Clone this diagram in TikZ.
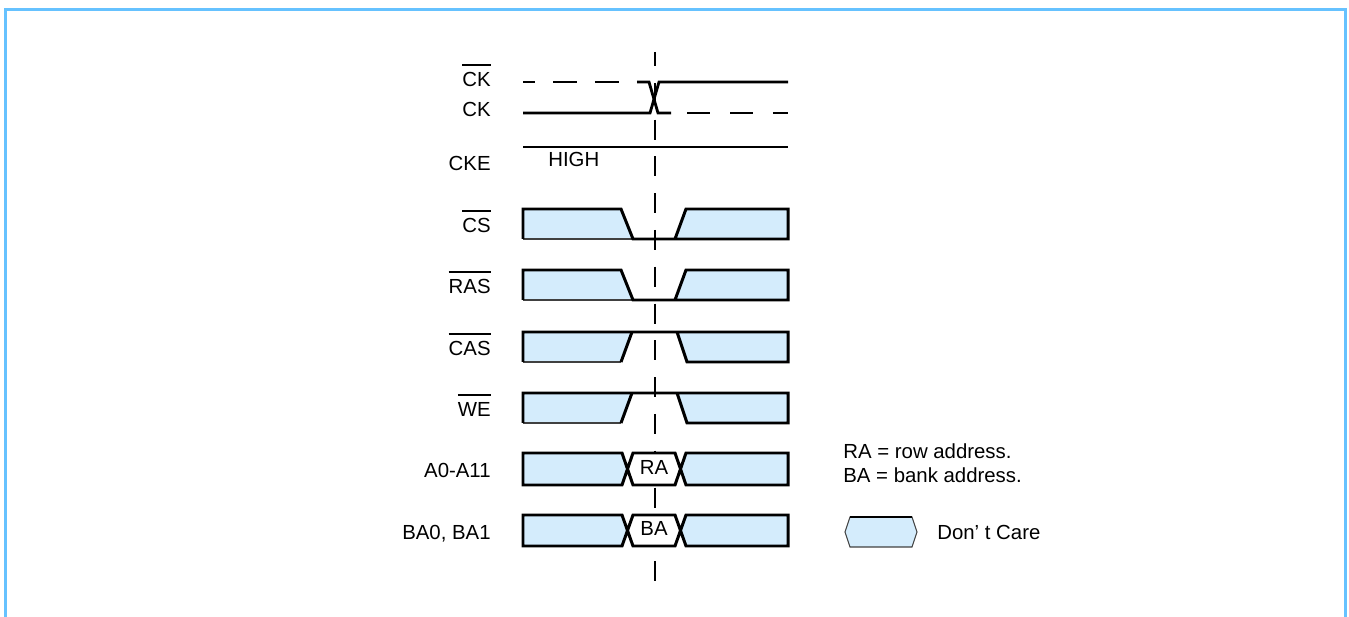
\documentclass[tikz,border=0pt]{standalone}
\usepackage{fontspec}
\setmainfont{Liberation Sans}
\usepackage{tikz}
\usetikzlibrary{positioning}
\definecolor{dcblue}{RGB}{212,236,252}
\definecolor{frameblue}{RGB}{102,194,255}
% bar over an active-low signal name
\newcommand{\sigbar}[1]{\vbox{\hrule height 1.2pt\kern 3.8pt\hbox{#1}}}

\begin{document}
\begin{tikzpicture}[
    % GLOBAL CFG
    x=0.02cm, y=-0.02cm,
    font=\fontsize{11.6}{13}\selectfont,
    % Styles
    sig/.style={% For the signal outlines
        line width=1.7pt,
        },
    thinsig/.style={% For the lower edge of the left boxes
        line width=0.6pt,
        draw=black!75,
        },
    dc/.style={% Don't care fill
        fill=dcblue,
        },
    clk/.style={% For the clock lines
        line width=1.6pt,
        },
    refline/.style={% The dashed reference line
        line width=1.3pt,
        dash pattern=on 0.4cm off 0.336cm,
        dash phase=0.12cm,
        },
    frame/.style={% Outer frame
        line width=1.7pt,
        draw=frameblue,
        },
    siglabel/.style={% Names of the signals
        anchor=base east,
        inner sep=0pt,
        },
    note/.style={% Texts on the right
        anchor=base west,
        inner sep=0pt,
        }
    ]

\useasboundingbox (0,0) rectangle (1349,617);

    % Draw the frame
    \draw[frame] (5.5,617) -- (5.5,9.5) -- (1345.5,9.5) -- (1345.5,617);

    % Draw the reference line
    \draw[refline] (655,52) -- (655,582);

    % Signal names
    \node[siglabel] (ckbar) at (491,87) {\sigbar{CK}};
    \node[siglabel] (ck) at (491,117) {CK};
    \node[siglabel] (cke) at (491,171) {CKE};
    \node[siglabel] (cs) at (491,233) {\sigbar{CS}};
    \node[siglabel] (ras) at (491,294) {\sigbar{RAS}};
    \node[siglabel] (cas) at (491,356) {\sigbar{CAS}};
    \node[siglabel] (we) at (491,417) {\sigbar{WE}};
    \node[siglabel] (addr) at (491,478) {A0-A11};
    \node[siglabel] (bank) at (491,540) {BA0, BA1};

    % Clocks
    \draw[clk, dash pattern=on 0.48cm off 0.36cm, dash phase=0.24cm] (523,82) -- (637,82);
    \draw[clk] (637,82) -- (649,82) -- (658,113) -- (671,113);
    \draw[clk, dash pattern=on 0.46cm off 0.4cm] (687,113) -- (788,113);
    \draw[clk] (523,113) -- (650,113) -- (659,82) -- (788,82);
    \draw[clk] (523,147) -- (788,147);
    \node[note] (high) at (548,167) {HIGH};

    % CS
    \fill[dc] (523,209) -- (621,209) -- (633,239) -- (523,239) -- cycle;
    \fill[dc] (675,239) -- (686,209) -- (788,209) -- (788,239) -- cycle;
    \draw[thinsig] (523,239) -- (633,239);
    \draw[sig] (523,239) -- (523,209) -- (621,209) -- (633,239) -- (675,239) -- (686,209) -- (788,209) -- (788,239) -- (675,239);

    % RAS
    \fill[dc] (523,270) -- (621,270) -- (633,300) -- (523,300) -- cycle;
    \fill[dc] (675,300) -- (686,270) -- (788,270) -- (788,300) -- cycle;
    \draw[thinsig] (523,300) -- (633,300);
    \draw[sig] (523,300) -- (523,270) -- (621,270) -- (633,300) -- (675,300) -- (686,270) -- (788,270) -- (788,300) -- (675,300);

    % CAS
    \fill[dc] (523,332) -- (632,332) -- (621,362) -- (523,362) -- cycle;
    \fill[dc] (677,332) -- (788,332) -- (788,362) -- (687,362) -- cycle;
    \draw[thinsig] (523,362) -- (621,362);
    \draw[sig] (523,362) -- (523,332) -- (788,332) -- (788,362) -- (687,362) -- (677,332);
    \draw[sig] (632,332) -- (621,362);

    % WE
    \fill[dc] (523,393) -- (632,393) -- (621,423) -- (523,423) -- cycle;
    \fill[dc] (677,393) -- (788,393) -- (788,423) -- (687,423) -- cycle;
    \draw[thinsig] (523,423) -- (621,423);
    \draw[sig] (523,423) -- (523,393) -- (788,393) -- (788,423) -- (687,423) -- (677,393);
    \draw[sig] (632,393) -- (621,423);

    % A0-A11
    \fill[dc] (523,453) -- (622,453) -- (627.5,469) -- (622,485) -- (523,485) -- cycle;
    \fill[white] (627.5,469) -- (633,453) -- (675,453) -- (680.5,469) -- (675,485) -- (633,485) -- cycle;
    \fill[dc] (680.5,469) -- (686,453) -- (788,453) -- (788,485) -- (686,485) -- cycle;
    \draw[sig] (523,485) -- (523,453) -- (622,453) -- (633,485) -- (675,485) -- (686,453) -- (788,453) -- (788,485) -- (686,485) -- (675,453) -- (633,453) -- (622,485) -- cycle;
    \node[anchor=base, inner sep=0pt] (ra) at (654,475) {RA};

    % BA0, BA1
    \fill[dc] (523,515) -- (622,515) -- (627.5,530.5) -- (622,546) -- (523,546) -- cycle;
    \fill[white] (627.5,530.5) -- (633,515) -- (675,515) -- (680.5,530.5) -- (675,546) -- (633,546) -- cycle;
    \fill[dc] (680.5,530.5) -- (686,515) -- (788,515) -- (788,546) -- (686,546) -- cycle;
    \draw[sig] (523,546) -- (523,515) -- (622,515) -- (633,546) -- (675,546) -- (686,515) -- (788,515) -- (788,546) -- (686,546) -- (675,515) -- (633,515) -- (622,546) -- cycle;
    \node[anchor=base, inner sep=0pt] (ba) at (654,536) {BA};

    % Notes and legend
    \node[note] (rainfo) at (843,459) {RA = row address.};
    \node[note] (bainfo) at (843,483) {BA = bank address.};
    \fill[dc] (845,532) -- (850,517) -- (912,517) -- (917,532) -- (912,547) -- (850,547) -- cycle;
    \draw[thinsig] (845,532) -- (850,517) -- (912,517) -- (917,532) -- (912,547) -- (850,547) -- cycle;
    \draw[sig] (850,517) -- (912,517);
    \node[note] (dontcare) at (937,540) {Don' t Care};

\end{tikzpicture}
\end{document}
